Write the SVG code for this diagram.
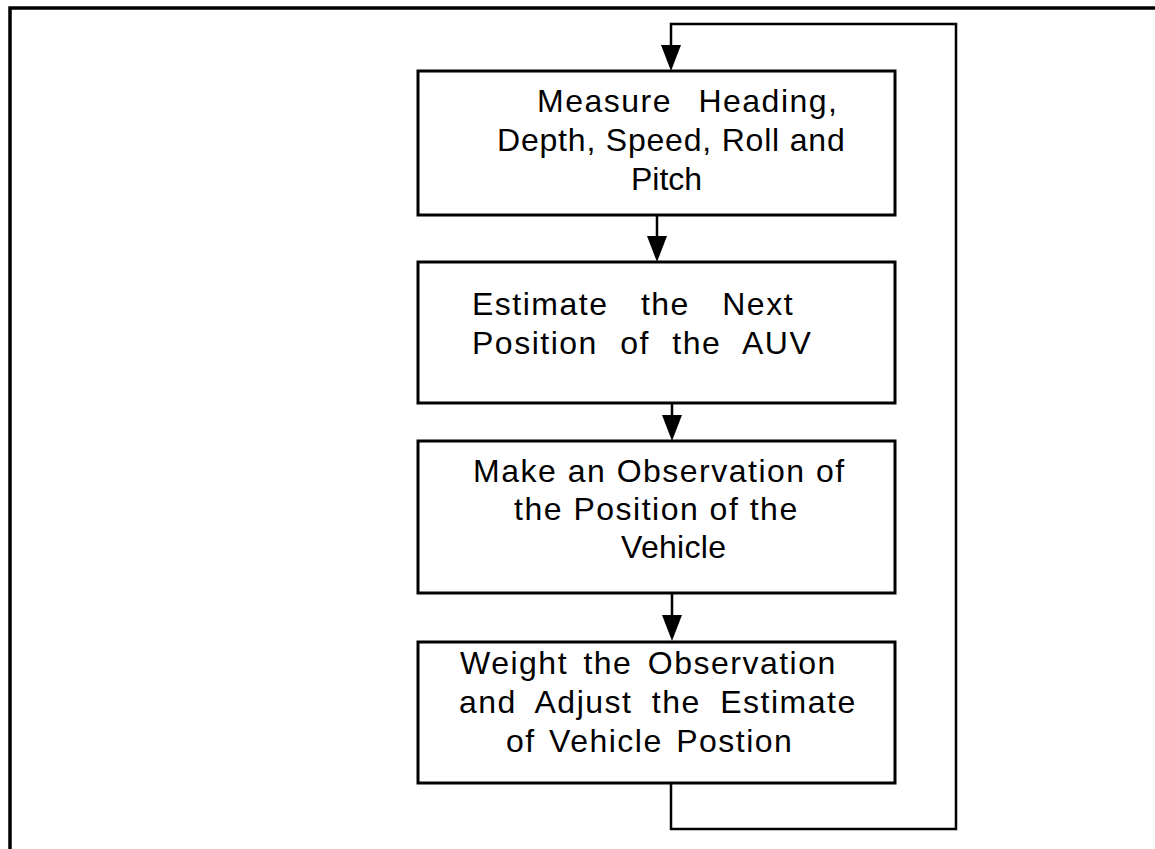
<svg xmlns="http://www.w3.org/2000/svg" width="1155" height="849" viewBox="0 0 1155 849">
<defs>
<style>
.frame{fill:none;stroke:#000;stroke-width:3.5}
.box{fill:#fff;stroke:#000;stroke-width:3}
.conn{fill:none;stroke:#000;stroke-width:2.5}
.lbl{font-family:"Liberation Sans",Arial,sans-serif;font-size:32px;letter-spacing:1.5px;fill:#000}
</style>
<marker id="ah" markerUnits="userSpaceOnUse" viewBox="0 0 26 20" markerWidth="26" markerHeight="20" refX="16" refY="10" orient="auto">
<path d="M0,0 L26,10 L0,20 z" fill="#000"/>
</marker>
</defs>
<rect width="1155" height="849" fill="#fff"/>
<path class="frame" d="M10,849 V8 H1155"/>
<g id="connectors">
<path class="conn" d="M657,215 V252" marker-end="url(#ah)"/>
<path class="conn" d="M672,403 V431" marker-end="url(#ah)"/>
<path class="conn" d="M672,593 V631" marker-end="url(#ah)"/>
<path class="conn" d="M671,783 V829 H956 V24 H671 V61" marker-end="url(#ah)"/>
</g>
<g id="node1">
<rect class="box" x="418" y="71" width="477" height="144"/>
<text class="lbl" x="537" y="112" word-spacing="16">Measure Heading,</text>
<text class="lbl" x="497" y="151" style="letter-spacing:0.8px">Depth, Speed, Roll and</text>
<text class="lbl" x="631" y="190" style="letter-spacing:0px">Pitch</text>
</g>
<g id="node2">
<rect class="box" x="418" y="262" width="477" height="141"/>
<text class="lbl" x="472" y="315" word-spacing="22">Estimate the Next</text>
<text class="lbl" x="472" y="354" word-spacing="12">Position of the AUV</text>
</g>
<g id="node3">
<rect class="box" x="418" y="441" width="477" height="152"/>
<text class="lbl" x="473" y="482">Make an Observation of</text>
<text class="lbl" x="514" y="520">the Position of the</text>
<text class="lbl" x="621" y="558" style="letter-spacing:0.3px">Vehicle</text>
</g>
<g id="node4">
<rect class="box" x="418" y="642" width="477" height="141"/>
<text class="lbl" x="460" y="674" word-spacing="5">Weight the Observation</text>
<text class="lbl" x="459" y="713" word-spacing="9">and Adjust the Estimate</text>
<text class="lbl" x="506" y="752" word-spacing="3">of Vehicle Postion</text>
</g>
</svg>
